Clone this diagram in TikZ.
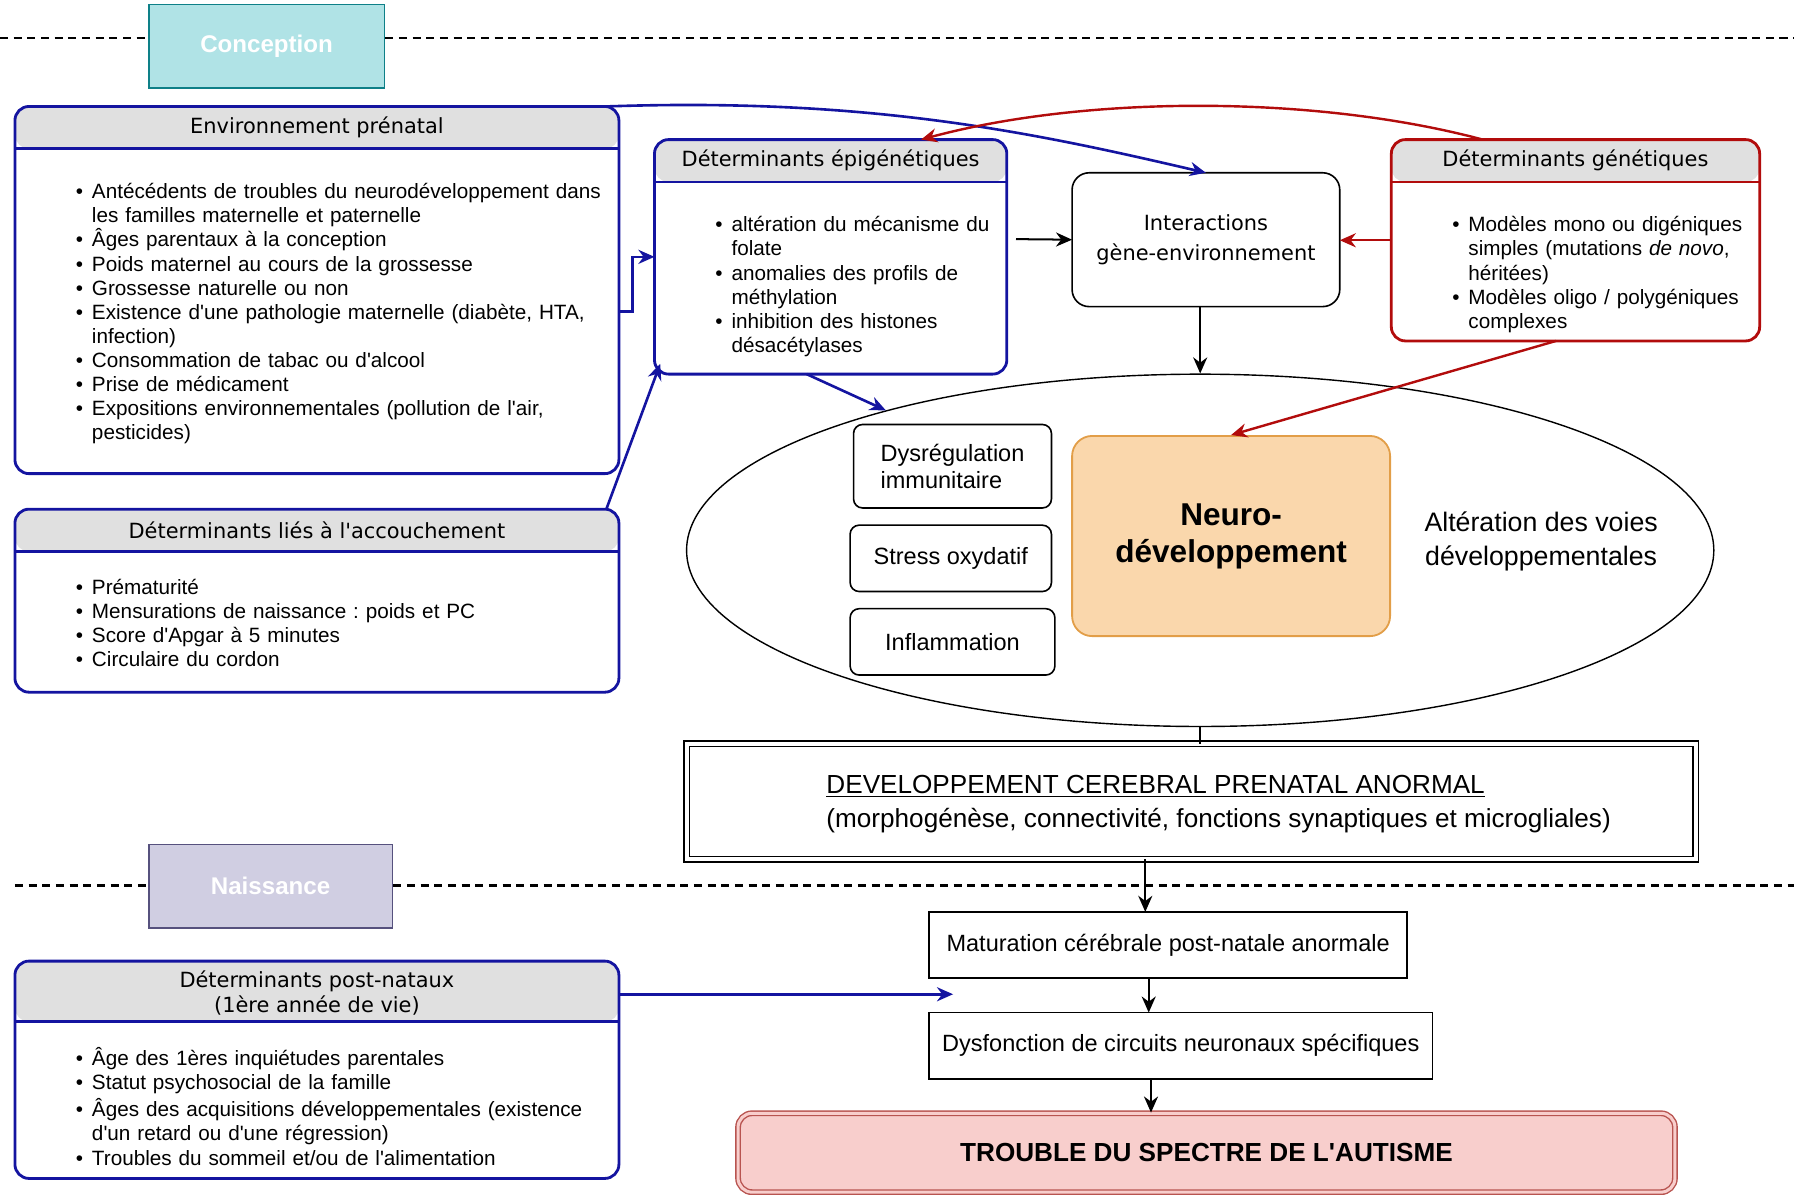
\documentclass[tikz,border=0pt]{standalone}
\usepackage{fontspec}
\setmainfont{Liberation Sans}[Ligatures=TeXOff]
\newfontfamily\hdrfont{DejaVu Sans}
\usetikzlibrary{shapes.geometric, arrows.meta, positioning, calc}

\definecolor{bnavy}{RGB}{20,20,160}
\definecolor{gred}{RGB}{178,12,12}
\definecolor{hdrgray}{RGB}{224,224,224}
\definecolor{concfill}{RGB}{176,227,230}
\definecolor{concline}{RGB}{14,128,136}
\definecolor{naisfill}{RGB}{208,206,226}
\definecolor{naisline}{RGB}{86,81,126}
\definecolor{neurofill}{RGB}{250,215,172}
\definecolor{neuroline}{RGB}{226,158,72}
\definecolor{tsafill}{RGB}{248,206,204}
\definecolor{tsaline}{RGB}{184,84,80}

\newcommand{\pxu}{0.02cm}
\newcommand{\itm}{\par\hangindent=8pt\hangafter=1\noindent\makebox[8pt][l]{\textbullet}\strut}

\begin{document}
\frenchspacing
\begin{tikzpicture}[x=\pxu, y=-\pxu,
  card/.style={rectangle, rounded corners=7pt, draw=#1, line width=1.4pt, fill=white, inner sep=0pt, outer sep=0pt},
  hdr/.style 2 args={path picture={
      \fill[hdrgray] (path picture bounding box.north west) rectangle ([yshift=-#1]path picture bounding box.north east);
      \draw[#2, line width=1.4pt] ([yshift=-#1]path picture bounding box.north west) -- ([yshift=-#1]path picture bounding box.north east);}},
  hdrtxt/.style={font=\hdrfont\fontsize{10.4}{12.5}\selectfont, align=center, inner sep=0pt},
  lst/.style={anchor=north west, inner sep=0pt, align=left, font=\fontsize{10.3}{12}\selectfont},
  box/.style={rectangle, draw=black, line width=0.8pt, fill=white, inner sep=0pt, outer sep=0pt, align=left, font=\fontsize{11.7}{13.7}\selectfont},
  rbox/.style={box, rounded corners=4.5pt},
  milestone/.style={rectangle, line width=0.8pt, text=white, font=\bfseries\fontsize{12}{14}\selectfont},
  timeline/.style={line width=1.1pt, dash pattern=on 4pt off 2.8pt},
  arr/.style={-{Stealth[length=8pt,width=7pt]}, line width=1pt},
  barr/.style={arr, draw=bnavy, line width=1.3pt},
  rarr/.style={arr, draw=gred, line width=1.2pt}]

  \useasboundingbox (0,0) rectangle (1568,1044);

  \node[milestone, fill=concfill, draw=concline, minimum width=4.12cm, minimum height=1.46cm] (conc) at (233,40.5) {Conception};
  \node[milestone, fill=naisfill, draw=naisline, minimum width=4.26cm, minimum height=1.46cm] (nais) at (236.5,774.5) {Naissance};

  \coordinate (tl) at (0,33);
  \coordinate (tr) at (1568,33);
  \coordinate (bl) at (13,774);
  \coordinate (br) at (1568,774);
  \draw[timeline] (tl) -- (tl -| conc.west) (tl -| conc.east) -- (tr);
  \draw[timeline] (bl) -- (bl -| nais.west) (bl -| nais.east) -- (br);

  \node[card=bnavy, hdr={0.74cm}{bnavy}, minimum width=10.56cm, minimum height=6.42cm] (env) at (277,253.5) {};
  \node[hdrtxt] (envt) at (277,111) {Environnement prénatal};
  \node[lst, text width=9.4cm] (envl) at (66,152.2) {%
    \itm Antécédents de troubles du neurodéveloppement dans\newline les familles maternelle et paternelle
    \itm Âges parentaux à la conception
    \itm Poids maternel au cours de la grossesse
    \itm Grossesse naturelle ou non
    \itm Existence d'une pathologie maternelle (diabète, HTA,\newline infection)
    \itm Consommation de tabac ou d'alcool
    \itm Prise de médicament
    \itm Expositions environnementales (pollution de l'air,\newline pesticides)\par};

  \node[card=bnavy, hdr={0.74cm}{bnavy}, minimum width=10.56cm, minimum height=3.2cm] (acc) at (277,525) {};
  \node[hdrtxt] (acct) at (277,463.5) {Déterminants liés à l'accouchement};
  \node[lst, text width=9.4cm] (accl) at (66,498.2) {%
    \itm Prématurité
    \itm Mensurations de naissance : poids et PC
    \itm Score d'Apgar à 5 minutes
    \itm Circulaire du cordon\par};

  \node[card=bnavy, hdr={1.06cm}{bnavy}, minimum width=10.56cm, minimum height=3.8cm] (post) at (277,935) {};
  \node[hdrtxt] (postt) at (277,868) {Déterminants post-nataux\\(1ère année de vie)};
  \node[lst, text width=9.4cm] (postl) at (66,909.7) {%
    \itm Âge des 1ères inquiétudes parentales
    \itm Statut psychosocial de la famille
    \itm Âges des acquisitions développementales (existence\newline d'un retard ou d'une régression)
    \itm Troubles du sommeil et/ou de l'alimentation\par};

  \node[card=bnavy, hdr={0.74cm}{bnavy}, minimum width=6.16cm, minimum height=4.1cm] (epi) at (726,224.5) {};
  \node[hdrtxt] (epit) at (726,140.5) {Déterminants épigénétiques};
  \node[lst, text width=5cm] (epil) at (625,181.2) {%
    \itm altération du mécanisme du\newline folate
    \itm anomalies des profils de\newline méthylation
    \itm inhibition des histones\newline désacétylases\par};

  \node[card=gred, hdr={0.74cm}{gred}, minimum width=6.44cm, minimum height=3.52cm] (gen) at (1377,210) {};
  \node[hdrtxt] (gent) at (1377,140.5) {Déterminants génétiques};
  \node[lst, text width=5.24cm] (genl) at (1269,181.2) {%
    \itm Modèles mono ou digéniques\newline simples (mutations \textit{de novo},\newline héritées)
    \itm Modèles oligo / polygéniques\newline complexes\par};

  \node[box, rounded corners=8.5pt, align=center, font=\hdrfont\fontsize{10.4}{13.7}\selectfont, minimum width=4.68cm, minimum height=2.34cm] (inter) at (1054,209.5) {\raisebox{-5pt}{\shortstack{Interactions\\[3pt]gène-environnement}}};

  \node[ellipse, draw=black, line width=0.7pt, inner sep=0pt, minimum width=17.96cm, minimum height=6.16cm] (ell) at (1049,481) {};
  \node[rbox, minimum width=3.46cm, minimum height=1.46cm] (dys) at (832.5,407.5) {Dysrégulation\\immunitaire};
  \node[rbox, minimum width=3.52cm, minimum height=1.16cm] (stress) at (831,488) {Stress oxydatif};
  \node[rbox, minimum width=3.58cm, minimum height=1.16cm] (infl) at (832.5,561) {Inflammation};
  \node[rectangle, rounded corners=10pt, fill=neurofill, draw=neuroline, line width=0.9pt, align=center, font=\bfseries\fontsize{15.7}{18.5}\selectfont, minimum width=5.56cm, minimum height=3.5cm] (neuro) at (1076,468.5) {Neuro-\\développement};
  \node[align=center, inner sep=0pt, font=\fontsize{13.3}{17}\selectfont] (alter) at (1347,473) {Altération des voies\\développementales};

  \node[box, double, double distance=2pt, minimum width=17.64cm, minimum height=2.02cm] (dev) at (1041,700.5) {};
  \node[anchor=west, align=left, inner sep=0pt, font=\fontsize{13}{17}\selectfont] (devt) at (722,703) {\underline{DEVELOPPEMENT CEREBRAL PRENATAL ANORMAL}\\(morphogénèse, connectivité, fonctions synaptiques et microgliales)};

  \node[box, minimum width=8.36cm, minimum height=1.16cm] (mat) at (1021,826) {Maturation cérébrale post-natale anormale};
  \node[box, minimum width=8.8cm, minimum height=1.16cm] (dysf) at (1032,914) {Dysfonction de circuits neuronaux spécifiques};
  \node[rectangle, rounded corners=7pt, fill=tsafill, draw=tsaline, line width=0.7pt, double=tsafill, double distance=1.5pt, font=\bfseries\fontsize{13}{16}\selectfont, minimum width=16.38cm, minimum height=1.38cm] (tsa) at (1054.5,1007.5) {TROUBLE DU SPECTRE DE L'AUTISME};

  \coordinate (e1) at ($(env.north east)+(-11,0)$);
  \draw[barr] (e1) .. controls +(230,-8) and +(-150,-35) .. (inter.north);
  \draw[rarr] ($(gen.north)+(-81,0)$) .. controls +(-146,-39) and +(145,-39) .. ($(epi.north)+(79,0)$);
  \draw[barr] ($(env.east)+(0,18.5)$) -- ++(12,0) |- (epi.west);
  \draw[barr] ($(acc.north east)+(-11,0)$) -- ($(epi.south west)+(5,-9)$);
  \draw[barr] ($(epi.south)+(-21,0)$) -- (ell.156);

  \coordinate (c1) at (888,209);
  \draw[arr] (c1) -- (inter.west);
  \draw[rarr] (gen.west) -- (gen.west -| inter.east);
  \draw[arr] (inter.south -| ell.north) -- (ell.north);
  \draw[rarr] ($(gen.south)+(-17,0)$) -- (neuro.north);
  \draw[line width=1pt] (ell.south) -- (ell.south |- dev.north);

  \coordinate (m1) at ($(mat.north)+(-20,0)$);
  \coordinate (m2) at ($(mat.south)+(-17,0)$);
  \coordinate (m3) at ($(dysf.south)+(-26,0)$);
  \draw[arr] (dev.south -| m1) -- (m1);
  \draw[arr] (m2) -- (m2 |- dysf.north);
  \draw[arr] (m3) -- (m3 |- tsa.north);

  \coordinate (pe) at (833,869);
  \draw[barr] (post.east |- pe) -- (pe);

\end{tikzpicture}
\end{document}
